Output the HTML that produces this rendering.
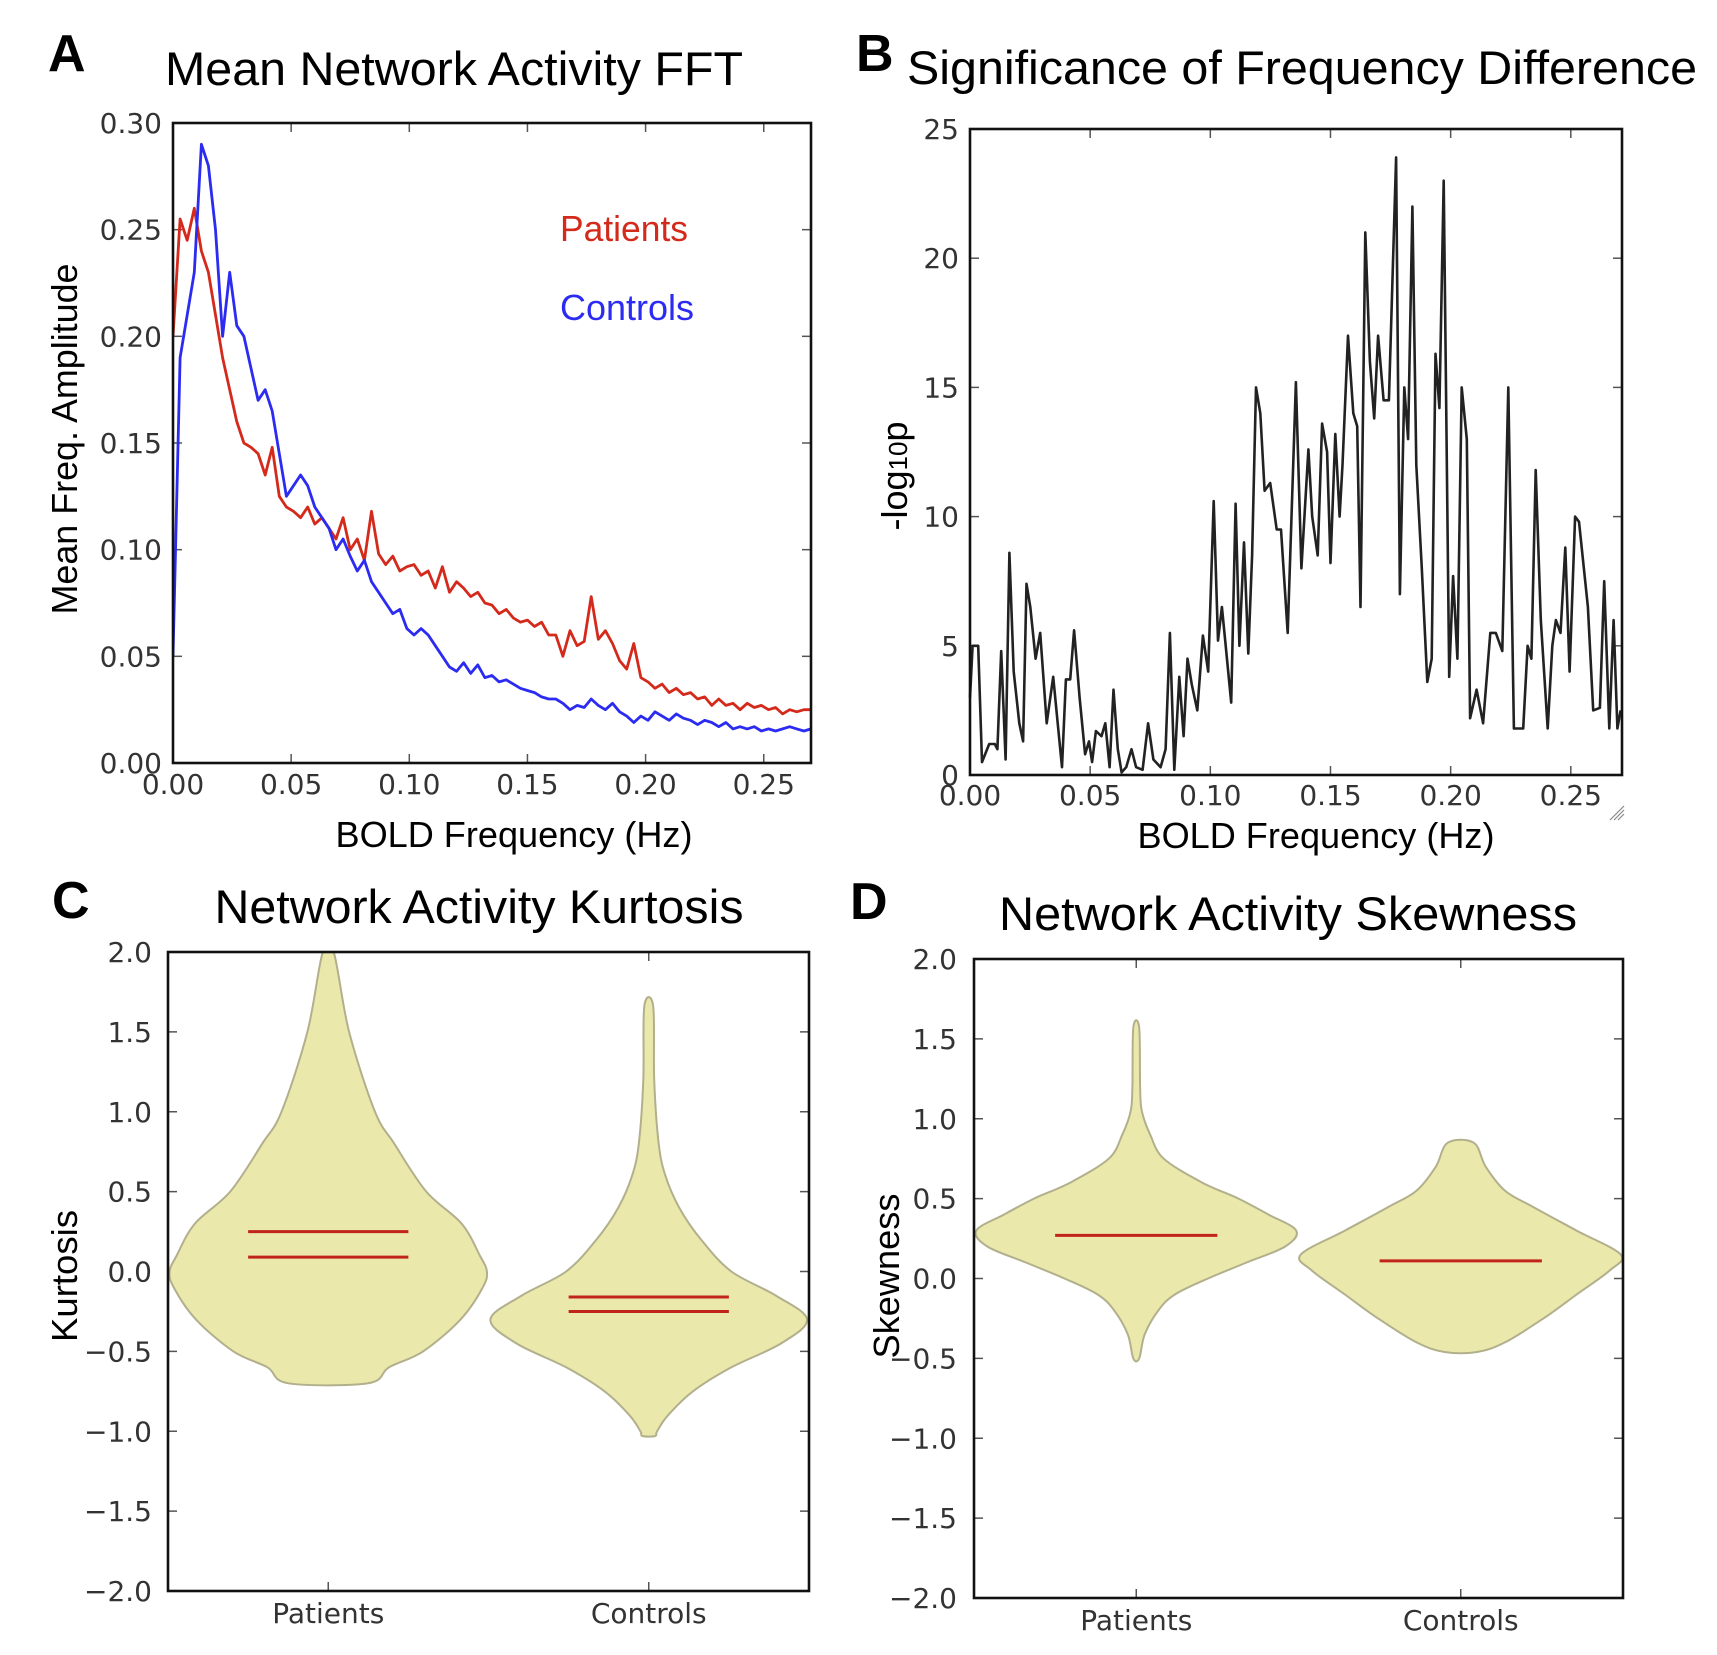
<!DOCTYPE html>
<html><head><meta charset="utf-8">
<style>
html,body{margin:0;padding:0;background:#fff;}
svg{display:block;}
.tk{font-family:"DejaVu Sans",sans-serif;font-size:28px;fill:#333;}
.lbl{font-family:"Liberation Sans",Arial,sans-serif;fill:#000;}
</style></head>
<body>
<svg id="fig" width="1717" height="1655" viewBox="0 0 1717 1655" xmlns="http://www.w3.org/2000/svg">
  <text class="lbl" x="48" y="71" font-size="52" font-weight="bold">A</text>
  <text class="lbl" x="454" y="85" font-size="47" text-anchor="middle" textLength="578" lengthAdjust="spacingAndGlyphs">Mean Network Activity FFT</text>
  <text class="lbl" x="856" y="71" font-size="52" font-weight="bold">B</text>
  <text class="lbl" x="1302" y="84" font-size="47" text-anchor="middle" textLength="790" lengthAdjust="spacingAndGlyphs">Significance of Frequency Difference</text>
  <text class="lbl" x="52" y="918" font-size="52" font-weight="bold">C</text>
  <text class="lbl" x="479" y="923" font-size="47" text-anchor="middle" textLength="529" lengthAdjust="spacingAndGlyphs">Network Activity Kurtosis</text>
  <text class="lbl" x="850" y="919" font-size="52" font-weight="bold">D</text>
  <text class="lbl" x="1288" y="930" font-size="47" text-anchor="middle" textLength="578" lengthAdjust="spacingAndGlyphs">Network Activity Skewness</text>

  <text class="lbl" font-size="36" text-anchor="middle" transform="translate(77,439) rotate(-90)" textLength="351" lengthAdjust="spacingAndGlyphs">Mean Freq. Amplitude</text>
  <text class="lbl" x="514" y="847" font-size="36" text-anchor="middle" textLength="357" lengthAdjust="spacingAndGlyphs">BOLD Frequency (Hz)</text>
  <text class="lbl" x="560" y="241" font-size="36" style="fill:#d42a1c" textLength="128" lengthAdjust="spacingAndGlyphs">Patients</text>
  <text class="lbl" x="560" y="320" font-size="36" style="fill:#2b2bf2" textLength="134" lengthAdjust="spacingAndGlyphs">Controls</text>

  <text class="lbl" font-size="36" text-anchor="middle" transform="translate(907,476) rotate(-90)">-log<tspan font-size="26">10</tspan>p</text>
  <text class="lbl" x="1316" y="848" font-size="36" text-anchor="middle" textLength="357" lengthAdjust="spacingAndGlyphs">BOLD Frequency (Hz)</text>

  <text class="lbl" font-size="36" text-anchor="middle" transform="translate(77,1276) rotate(-90)" textLength="132" lengthAdjust="spacingAndGlyphs">Kurtosis</text>
  <text class="lbl" font-size="36" text-anchor="middle" transform="translate(899,1276) rotate(-90)" textLength="165" lengthAdjust="spacingAndGlyphs">Skewness</text>

  <g id="gA"></g>
  <g id="gB"></g>
  <g id="gC"></g>
  <g id="gD"></g>
  <g stroke="#888" stroke-width="1.2">
    <line x1="1610" y1="820" x2="1624" y2="806"/><line x1="1614" y1="820" x2="1624" y2="810"/><line x1="1618" y1="820" x2="1624" y2="814"/>
  </g>
</svg>
<script>
// ---------- Panel A data ----------
const fftFreqStep = 0.003;
const fftPatients = [0.20,0.255,0.245,0.26,0.24,0.23,0.21,0.19,0.175,0.16,0.15,0.148,0.145,0.135,0.148,0.125,0.12,0.118,0.115,0.12,0.112,0.115,0.11,0.105,0.115,0.100,0.105,0.095,0.118,0.098,0.093,0.097,0.09,0.092,0.093,0.088,0.09,0.082,0.092,0.08,0.085,0.082,0.078,0.08,0.075,0.074,0.07,0.072,0.068,0.066,0.067,0.064,0.066,0.06,0.06,0.05,0.062,0.055,0.057,0.078,0.058,0.062,0.056,0.048,0.044,0.056,0.04,0.038,0.035,0.037,0.033,0.035,0.032,0.033,0.03,0.031,0.027,0.03,0.027,0.028,0.025,0.028,0.026,0.027,0.025,0.026,0.023,0.025,0.024,0.025,0.025];
const fftControls = [0.05,0.19,0.21,0.23,0.29,0.28,0.25,0.20,0.23,0.205,0.20,0.185,0.17,0.175,0.165,0.145,0.125,0.13,0.135,0.13,0.12,0.115,0.11,0.10,0.105,0.097,0.09,0.095,0.085,0.08,0.075,0.07,0.072,0.063,0.06,0.063,0.06,0.055,0.05,0.045,0.043,0.047,0.042,0.046,0.04,0.041,0.038,0.039,0.037,0.035,0.034,0.033,0.031,0.03,0.03,0.028,0.025,0.027,0.026,0.03,0.027,0.025,0.028,0.024,0.022,0.019,0.022,0.02,0.024,0.022,0.02,0.023,0.021,0.02,0.018,0.02,0.019,0.017,0.019,0.016,0.017,0.016,0.017,0.015,0.016,0.015,0.016,0.017,0.016,0.015,0.016];
const fftXTicks = [0,0.05,0.10,0.15,0.20,0.25];
const fftXTickLabels = ["0.00","0.05","0.10","0.15","0.20","0.25"];
const fftYTicks = [0,0.05,0.10,0.15,0.20,0.25,0.30];
const fftYTickLabels = ["0.00","0.05","0.10","0.15","0.20","0.25","0.30"];

// ---------- Panel B data ----------
const sigFreq = [0,.0011,.0034,.0050,.0080,.0103,.0114,.0130,.0148,.0164,.0182,.0205,.0221,.0235,.0251,.0273,.0292,.0319,.0346,.0365,.0383,.0399,.0417,.0433,.0456,.0479,.0495,.0508,.0524,.0547,.0563,.0581,.0597,.0615,.0631,.0650,.0672,.0691,.0718,.0741,.0763,.0793,.0814,.0832,.0850,.0871,.0889,.0905,.0923,.0946,.0969,.0991,.1014,.1032,.1048,.1064,.1087,.1105,.1121,.1140,.1158,.1174,.1190,.1208,.1226,.1249,.1276,.1294,.1322,.1356,.1379,.1408,.1424,.1447,.1465,.1486,.1500,.1520,.1538,.1550,.1573,.1595,.1611,.1625,.1645,.1664,.1682,.1698,.1721,.1743,.1773,.1789,.1807,.1823,.1841,.1857,.1880,.1903,.1921,.1937,.1953,.1971,.1994,.2010,.2028,.2046,.2067,.2081,.2108,.2135,.2165,.2188,.2215,.2240,.2263,.2302,.2320,.2336,.2354,.2375,.2404,.2423,.2438,.2457,.2477,.2495,.2518,.2534,.2571,.2593,.2621,.2639,.2660,.2678,.2694,.2707];
const sigLogP = [3,5,5,0.5,1.2,1.2,1,4.8,0.6,8.6,4,2,1.3,7.4,6.5,4.5,5.5,2,3.8,2,0.3,3.7,3.7,5.6,3,0.8,1.3,0.5,1.7,1.5,2,0.3,3.3,1,0.1,0.3,1,0.3,0.2,2,0.6,0.3,1,5.5,0.2,3.8,1.5,4.5,3.5,2.5,5.4,4,10.6,5.2,6.5,5,2.8,10.5,5,9,4.7,8.5,15,14,11,11.3,9.5,9.5,5.5,15.2,8,12.6,10,8.5,13.6,12.5,8.2,13.2,10,12,17,14,13.5,6.5,21,16,13.8,17,14.5,14.5,23.9,7,15,13,22,12,8,3.6,4.5,16.3,14.2,23,3.8,7.7,4.5,15,13,2.2,3.3,2,5.5,5.5,4.8,15,1.8,1.8,5,4.5,11.8,6,1.8,5,6,5.5,8.8,4,10,9.8,6.5,2.5,2.6,7.5,1.8,6,1.8,2.5];
const sigXTicks = [0,0.05,0.10,0.15,0.20,0.25];
const sigXTickLabels = ["0.00","0.05","0.10","0.15","0.20","0.25"];
const sigYTicks = [0,5,10,15,20,25];
const sigYTickLabels = ["0","5","10","15","20","25"];

// ---------- Panel C / D data (violin profiles: y value, half-width in category units) ----------
const violinCategories = ["Patients","Controls"];
const kurtPatY  = [2.0,1.5,1.0,0.8,0.5,0.3,0.1,0.0,-0.1,-0.3,-0.5,-0.6,-0.7];
const kurtPatW  = [0.017,0.065,0.146,0.206,0.306,0.416,0.473,0.495,0.482,0.413,0.296,0.19,0.124];
const kurtConY  = [1.66,1.2,0.8,0.6,0.4,0.2,0.0,-0.15,-0.3,-0.45,-0.6,-0.75,-0.9,-1.0,-1.03];
const kurtConW  = [0.014,0.017,0.031,0.052,0.095,0.163,0.258,0.396,0.494,0.413,0.258,0.138,0.06,0.026,0.02];
const kurtPatLines = [0.25,0.09];
const kurtConLines = [-0.16,-0.25];
const skewPatY  = [1.57,1.2,1.05,0.9,0.75,0.6,0.5,0.4,0.3,0.2,0.1,0.0,-0.1,-0.2,-0.35,-0.5];
const skewPatW  = [0.009,0.012,0.017,0.043,0.085,0.204,0.315,0.408,0.493,0.459,0.34,0.221,0.119,0.068,0.026,0.009];
const skewConY  = [0.85,0.7,0.55,0.45,0.3,0.15,0.05,-0.1,-0.25,-0.4,-0.46];
const skewConW  = [0.04,0.077,0.136,0.221,0.357,0.493,0.459,0.357,0.255,0.136,0.05];
const skewPatLines = [0.27];
const skewConLines = [0.11];
const violinYTicks = [-2.0,-1.5,-1.0,-0.5,0.0,0.5,1.0,1.5,2.0];
const violinYTickLabels = ["\u22122.0","\u22121.5","\u22121.0","\u22120.5","0.0","0.5","1.0","1.5","2.0"];

const NS = "http://www.w3.org/2000/svg";
function mk(tag, attrs, parent){
  const e = document.createElementNS(NS, tag);
  for (const k in attrs) e.setAttribute(k, attrs[k]);
  parent.appendChild(e);
  return e;
}
function scale(d0,d1,r0,r1){ return v => r0 + (v-d0)/(d1-d0)*(r1-r0); }

function axesFrame(g, box, xs, ys, xTicks, xLabels, yTicks, yLabels, xLabelY, yLabelX, xTickFont){
  const tg = mk('g', {stroke:'#555','stroke-width':1.5}, g);
  
  
  xTicks.forEach(t=>{
    const x = xs(t);
    mk('line',{x1:x,y1:box.b,x2:x,y2:box.b-9},tg);
    mk('line',{x1:x,y1:box.t,x2:x,y2:box.t+9},tg);
  });
  yTicks.forEach(t=>{
    const y = ys(t);
    mk('line',{x1:box.l,y1:y,x2:box.l+9,y2:y},tg);
    mk('line',{x1:box.r,y1:y,x2:box.r-9,y2:y},tg);
  });
  xTicks.forEach((t,i)=>{
    const tx = mk('text',{x:xs(t),y:xLabelY,'text-anchor':'middle','class':'tk'},g);
    if (xTickFont) tx.setAttribute('font-size', xTickFont);
    
    
    tx.textContent = xLabels[i];
  });
  yTicks.forEach((t,i)=>{
    const tx = mk('text',{x:yLabelX,y:ys(t)+10,'text-anchor':'end','class':'tk'},g);
    
    
    tx.textContent = yLabels[i];
  });
}
function border(g, box){
  const r = mk('rect',{x:box.l,y:box.t,width:box.r-box.l,height:box.b-box.t,fill:'none',stroke:'#111','stroke-width':2.6},g);
  
  
}

// ---- Panel A ----
(function(){
  const g = document.getElementById('gA');
  const box = {l:173,r:811,t:123,b:763};
  const xs = scale(0,0.27,box.l,box.r), ys = scale(0,0.30,box.b,box.t);
  axesFrame(g, box, xs, ys, fftXTicks, fftXTickLabels, fftYTicks, fftYTickLabels, 794, 162);
  const clip = mk('clipPath',{id:'clipA'},g);
  mk('rect',{x:box.l,y:box.t,width:box.r-box.l,height:box.b-box.t},clip);
  function line(vals, color, name){
    const d = vals.map((v,i)=>(i?'L':'M')+xs(i*fftFreqStep).toFixed(1)+','+ys(v).toFixed(1)).join('');
    const p = mk('path',{d:d,fill:'none',stroke:color,'stroke-width':2.8,'stroke-linejoin':'round','clip-path':'url(#clipA)'},g);
    
    
  }
  line(fftPatients,'#d42a1c','patients-line');
  line(fftControls,'#2b2bf2','controls-line');
  border(g, box);
})();

// ---- Panel B ----
(function(){
  const g = document.getElementById('gB');
  const box = {l:970,r:1622,t:129,b:775};
  const xs = scale(0,0.2713,box.l,box.r), ys = scale(0,25,box.b,box.t);
  axesFrame(g, box, xs, ys, sigXTicks, sigXTickLabels, sigYTicks, sigYTickLabels, 805, 959);
  const d = sigFreq.map((f,i)=>(i?'L':'M')+xs(f).toFixed(1)+','+ys(sigLogP[i]).toFixed(1)).join('');
  const p = mk('path',{d:d,fill:'none',stroke:'#222','stroke-width':2.6,'stroke-linejoin':'round'},g);
  
  
  border(g, box);
})();

// ---- Violin panels ----
function violinPanel(gid, box, profiles, lines, xLabelY, yLabelX){
  const g = document.getElementById(gid);
  const xs = scale(0.5,2.5,box.l,box.r), ys = scale(-2,2,box.b,box.t);
  axesFrame(g, box, xs, ys, [1,2], violinCategories, violinYTicks, violinYTickLabels, xLabelY, yLabelX, 28);
  const clip = mk('clipPath',{id:'clip'+gid},g);
  mk('rect',{x:box.l,y:box.t,width:box.r-box.l,height:box.b-box.t},clip);
  const pxPerUnit = xs(1)-xs(0);
  profiles.forEach((pr,ci)=>{
    const cx = xs(ci+1);
    const Y = pr[0], W = pr[1];
    let pts = [];
    for (let i=0;i<Y.length;i++) pts.push([cx+W[i]*pxPerUnit, ys(Y[i])]);
    for (let i=Y.length-1;i>=0;i--) pts.push([cx-W[i]*pxPerUnit, ys(Y[i])]);
    let d = 'M'+pts[0][0].toFixed(1)+','+pts[0][1].toFixed(1);
    const n = pts.length;
    for (let i=0;i<n;i++){
      const p0=pts[(i-1+n)%n], p1=pts[i], p2=pts[(i+1)%n], p3=pts[(i+2)%n];
      const c1=[p1[0]+(p2[0]-p0[0])/6, p1[1]+(p2[1]-p0[1])/6];
      const c2=[p2[0]-(p3[0]-p1[0])/6, p2[1]-(p3[1]-p1[1])/6];
      d += 'C'+c1[0].toFixed(1)+','+c1[1].toFixed(1)+' '+c2[0].toFixed(1)+','+c2[1].toFixed(1)+' '+p2[0].toFixed(1)+','+p2[1].toFixed(1);
    }
    const v = mk('path',{d:d,fill:'#ebe8ac',stroke:'#b2b08c','stroke-width':2,'clip-path':'url(#clip'+gid+')'},g);
    
    
    lines[ci].forEach(val=>{
      const l = mk('line',{x1:cx-0.25*pxPerUnit,x2:cx+0.25*pxPerUnit,y1:ys(val),y2:ys(val),stroke:'#c0241c','stroke-width':3},g);
      
      
    });
  });
  border(g, box);
}
violinPanel('gC', {l:168,r:809,t:952,b:1591}, [[kurtPatY,kurtPatW],[kurtConY,kurtConW]], [kurtPatLines,kurtConLines], 1623, 152);
violinPanel('gD', {l:974,r:1623,t:959,b:1598}, [[skewPatY,skewPatW],[skewConY,skewConW]], [skewPatLines,skewConLines], 1630, 957);
</script>
</body></html>
